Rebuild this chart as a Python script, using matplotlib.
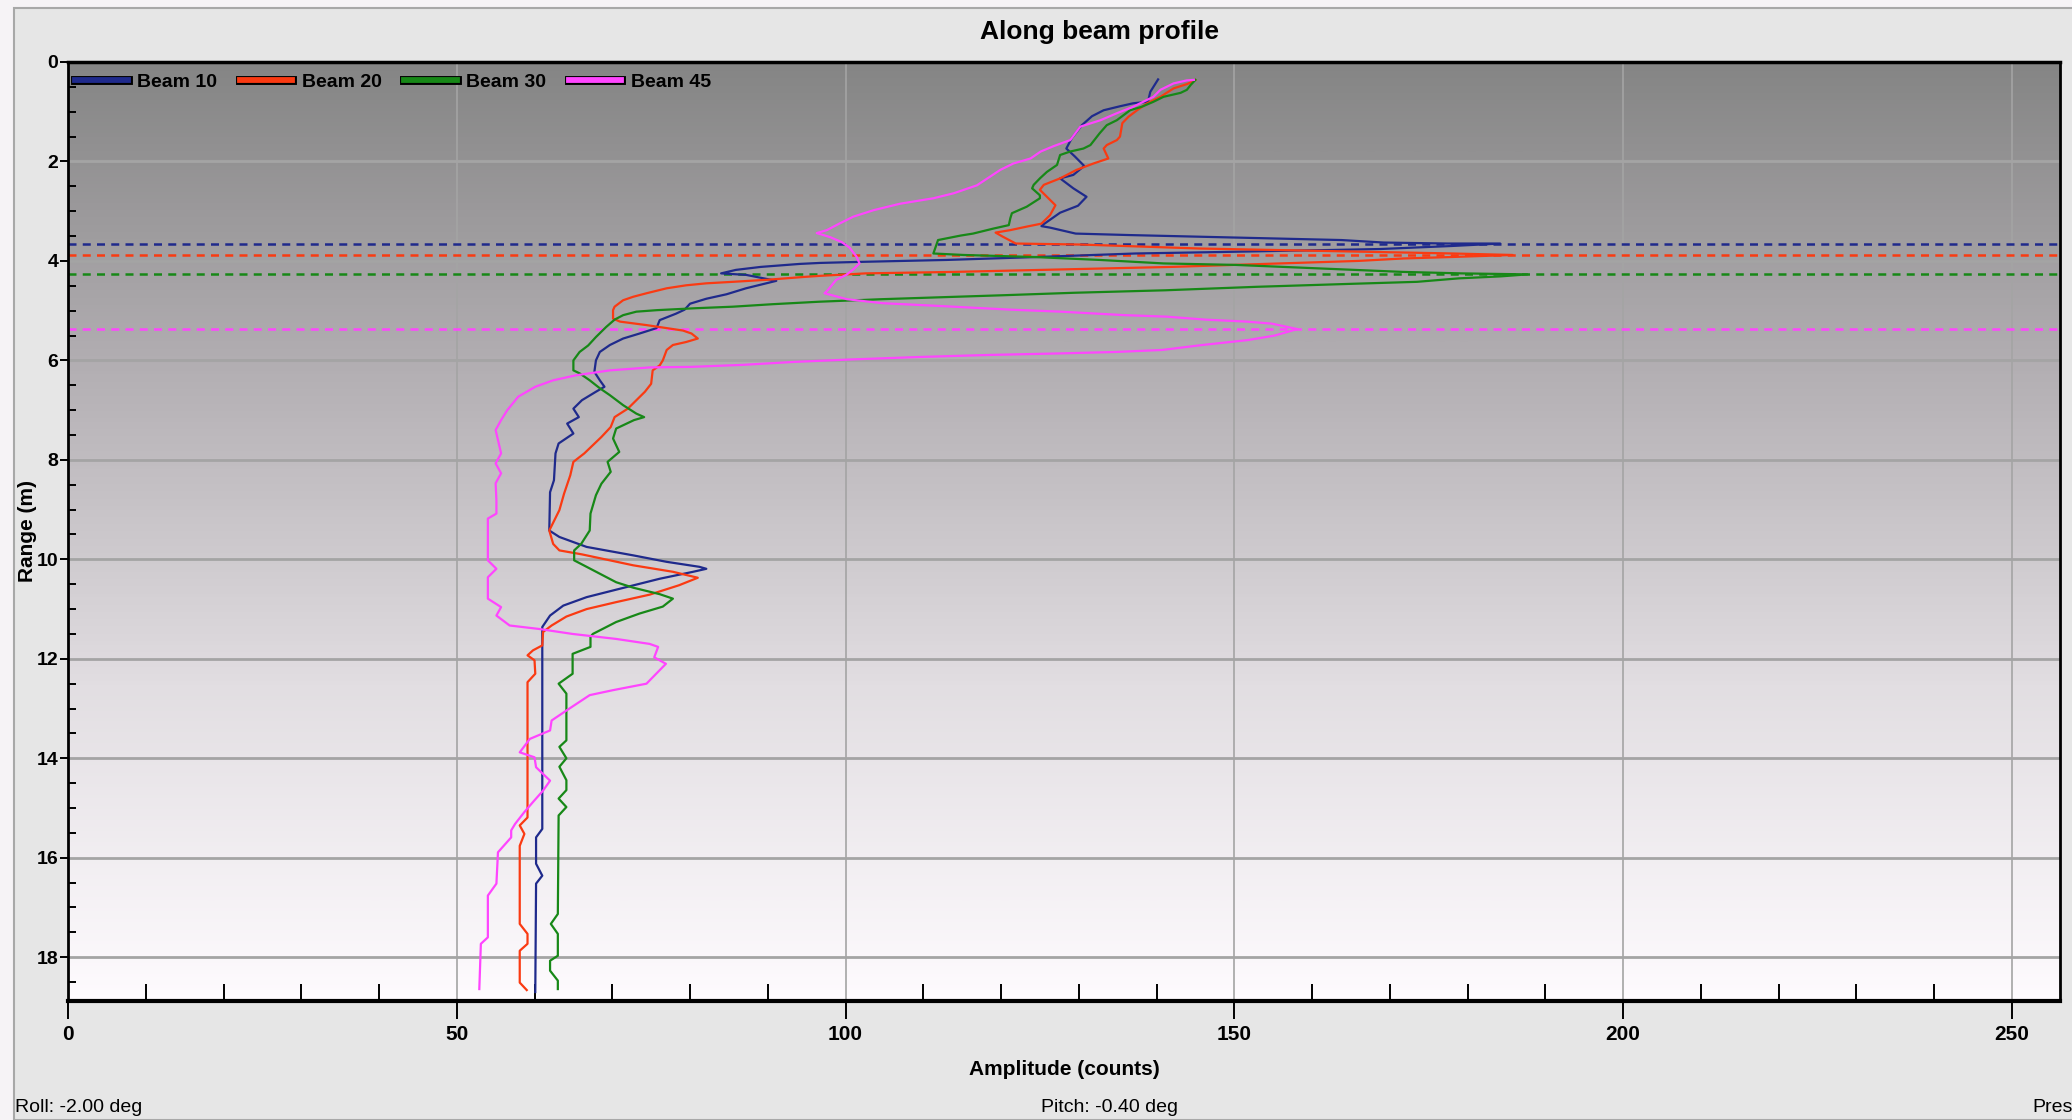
import numpy as np
import matplotlib
matplotlib.use('Agg')
import matplotlib.pyplot as plt
import matplotlib.patches as patches
import matplotlib.patheffects as pe
from matplotlib.colors import LinearSegmentedColormap
from matplotlib.lines import Line2D
from matplotlib.ticker import MultipleLocator

# Beam 10 profile (amplitude in counts, range in m)
beam10_amp = [140.2, 139.2, 138.9, 137.0, 135.3, 133.2, 131.7, 130.4, 129.1, 128.4, 129.5, 130.7, 129.3,
              127.6, 129.3, 131.0, 129.9, 127.6, 125.5, 125.2, 126.3, 129.6, 136.6, 150.2, 163.8, 169.2,
              177.4, 184.2, 177.9, 168.8, 162.4, 158.5, 148.4, 137.3, 124.8, 113.0, 101.6, 96.7, 94.1,
              89.1, 85.9, 84.0, 87.2, 91.1, 89.8, 87.2, 84.7, 82.1, 80.0, 79.3, 78.2, 76.1, 75.7, 73.5,
              71.4, 69.7, 68.4, 67.9, 67.7, 68.4, 69.0, 67.9, 66.1, 65.0, 65.7, 64.2, 65.0, 63.1, 62.7,
              62.5, 62.0, 61.9, 63.2, 66.7, 72.7, 77.0, 81.2, 82.1, 80.4, 76.1, 71.0, 66.7, 63.7, 62.0,
              61.0, 61.0, 60.2, 60.2, 61.0, 60.2, 60.1]
beam10_rng = [0.35, 0.60, 0.80, 0.83, 0.89, 0.97, 1.09, 1.27, 1.53, 1.74, 1.90, 2.09, 2.27,
              2.34, 2.54, 2.71, 2.89, 3.03, 3.26, 3.30, 3.33, 3.45, 3.48, 3.53, 3.58, 3.63,
              3.65, 3.65, 3.70, 3.76, 3.78, 3.79, 3.82, 3.85, 3.92, 3.98, 4.02, 4.04, 4.06,
              4.12, 4.18, 4.25, 4.28, 4.40, 4.45, 4.55, 4.67, 4.76, 4.86, 4.98, 5.06, 5.19, 5.35, 5.46,
              5.56, 5.69, 5.83, 6.00, 6.23, 6.40, 6.53, 6.63, 6.80, 6.97, 7.14, 7.27, 7.47, 7.67, 7.87,
              8.41, 8.65, 9.42, 9.55, 9.75, 9.92, 10.05, 10.15, 10.19, 10.25, 10.39, 10.59, 10.76, 10.93, 11.13,
              11.36, 15.42, 15.59, 16.12, 16.36, 16.52, 18.70]

# Beam 20 profile
beam20_amp = [145.0, 144.0, 142.2, 140.5, 138.8, 137.5, 136.4, 135.6, 135.3, 134.9, 133.6, 133.2, 133.8,
              131.9, 129.7, 127.6, 125.5, 125.0, 125.9, 127.0, 126.3, 125.2, 123.3, 121.2, 119.3, 120.2,
              121.9, 130.2, 145.5, 161.8, 178.1, 185.8, 178.1, 171.8, 165.9, 155.9, 141.9, 128.0, 114.1,
              102.6, 96.7, 94.8, 89.8, 85.5, 82.1, 79.5, 77.0, 74.4, 72.7, 71.4, 70.3, 70.1, 70.1, 71.0,
              74.4, 77.4, 79.1, 80.2, 81.0, 79.5, 77.8, 77.0, 76.5, 76.1, 75.2, 75.0, 74.2, 73.1, 72.0,
              70.3, 69.8, 68.6, 66.4, 65.0, 64.6, 63.8, 63.2, 61.9, 62.4, 63.2, 66.1, 72.7, 77.8, 81.0,
              78.6, 74.8, 70.5, 66.7, 64.1, 62.2, 61.1, 61.0, 59.8, 59.1, 60.0, 60.1, 59.1, 59.1, 58.1,
              58.7, 58.1, 58.1, 59.1, 59.1, 58.1, 58.1, 59.0]
beam20_rng = [0.36, 0.44, 0.53, 0.70, 0.83, 0.97, 1.10, 1.23, 1.50, 1.57, 1.67, 1.74, 1.94,
              2.04, 2.17, 2.34, 2.47, 2.57, 2.71, 2.88, 3.08, 3.25, 3.31, 3.38, 3.43, 3.51,
              3.65, 3.67, 3.75, 3.80, 3.85, 3.88, 3.92, 3.95, 4.00, 4.05, 4.12, 4.17, 4.22,
              4.25, 4.30, 4.32, 4.38, 4.42, 4.45, 4.49, 4.55, 4.65, 4.72, 4.79, 4.92, 4.99, 5.16, 5.22,
              5.29, 5.36, 5.40, 5.46, 5.56, 5.63, 5.69, 5.79, 6.00, 6.10, 6.20, 6.47, 6.63, 6.80, 6.97,
              7.14, 7.34, 7.54, 7.87, 8.04, 8.31, 8.68, 9.01, 9.42, 9.69, 9.82, 9.90, 10.12, 10.25, 10.37,
              10.52, 10.71, 10.86, 11.00, 11.15, 11.33, 11.46, 11.73, 11.83, 11.93, 12.03, 12.30, 12.47, 15.19, 15.35,
              15.52, 15.76, 17.33, 17.53, 17.73, 17.87, 18.51, 18.66]

# Beam 30 profile
beam30_amp = [145.0, 144.4, 143.9, 143.1, 140.9, 139.6, 138.1, 136.6, 134.9, 133.6, 132.7, 131.5, 130.6,
              128.9, 127.6, 127.2, 125.9, 125.0, 124.2, 124.0, 125.0, 125.0, 123.3, 121.4, 121.2, 121.0,
              119.0, 116.4, 114.8, 111.9, 111.3, 115.2, 124.1, 132.7, 140.9, 150.2, 160.9, 171.6, 179.2,
              187.7, 184.3, 178.9, 173.5, 165.1, 152.9, 141.1, 129.4, 120.2, 112.3, 104.5, 96.6, 90.6,
              85.5, 80.8, 75.7, 73.1, 71.4, 70.3, 69.2, 67.9, 66.9, 65.8, 65.0, 65.0, 65.8, 67.1, 68.4,
              69.7, 71.4, 73.1, 74.1, 72.8, 70.5, 70.1, 70.9, 69.4, 69.8, 68.6, 67.9, 67.2, 67.1, 66.0,
              65.1, 65.1, 66.7, 70.5, 72.7, 76.1, 77.8, 76.5, 73.5, 70.5, 67.5, 67.2, 67.2, 64.9, 64.9,
              63.1, 64.1, 64.1, 63.2, 64.1, 63.2, 64.1, 64.1, 63.1, 64.1, 63.1, 63.0, 62.1, 63.0, 63.0,
              62.0, 62.0, 63.0, 63.0]
beam30_rng = [0.36, 0.46, 0.56, 0.62, 0.70, 0.80, 0.90, 0.97, 1.17, 1.27, 1.43, 1.67, 1.74,
              1.80, 1.87, 2.07, 2.21, 2.34, 2.47, 2.54, 2.68, 2.74, 2.91, 3.04, 3.14, 3.28,
              3.35, 3.45, 3.49, 3.58, 3.85, 3.88, 3.92, 3.98, 4.05, 4.08, 4.15, 4.22, 4.25,
              4.27, 4.31, 4.35, 4.42, 4.46, 4.52, 4.59, 4.64, 4.69, 4.73, 4.77, 4.82, 4.87,
              4.92, 4.95, 4.99, 5.02, 5.09, 5.18, 5.33, 5.53, 5.70, 5.83, 6.00, 6.20, 6.26, 6.40, 6.56,
              6.70, 6.90, 7.07, 7.14, 7.20, 7.37, 7.57, 7.84, 8.04, 8.24, 8.48, 8.71, 9.08, 9.42, 9.69,
              9.82, 10.02, 10.15, 10.46, 10.57, 10.70, 10.79, 10.95, 11.09, 11.26, 11.50, 11.56, 11.76, 11.90, 12.30,
              12.50, 12.70, 13.64, 13.77, 14.00, 14.17, 14.44, 14.64, 14.81, 14.98, 15.15, 17.13, 17.33, 17.53, 17.97,
              18.07, 18.27, 18.47, 18.64]

# Beam 45 profile
beam45_amp = [144.8, 143.9, 142.2, 140.5, 139.6, 138.8, 137.0, 134.9, 132.8, 130.2, 128.9, 126.8, 125.1,
              123.8, 121.6, 119.9, 116.9, 113.9, 111.3, 107.0, 103.6, 101.0, 99.2, 97.6, 96.3, 98.0,
              99.5, 100.5, 101.4, 101.8, 101.0, 100.1, 98.8, 97.7, 97.3, 100.2, 104.8, 112.7, 121.3,
              127.7, 135.9, 141.3, 146.3, 151.6, 154.8, 158.1, 155.2, 151.8, 145.9, 140.7, 134.8, 127.4,
              118.5, 109.7, 100.8, 93.4, 86.7, 80.1, 74.9, 69.7, 65.3, 62.4, 60.1, 57.9, 56.5, 55.7,
              55.0, 55.3, 55.7, 55.0, 55.7, 55.0, 55.1, 55.1, 54.0, 54.0, 55.1, 54.0, 54.0, 55.7, 55.1,
              56.8, 60.6, 64.9, 70.5, 74.8, 75.9, 75.4, 76.9, 74.4, 70.1, 67.1, 64.1, 62.2, 62.0, 59.4,
              58.1, 60.0, 60.2, 62.0, 61.1, 59.8, 58.7, 57.5, 57.0, 57.0, 55.3, 55.1, 54.0, 54.0, 53.1,
              52.9]
beam45_rng = [0.36, 0.37, 0.43, 0.56, 0.70, 0.76, 0.90, 1.03, 1.17, 1.30, 1.57, 1.69, 1.80,
              1.94, 2.04, 2.17, 2.48, 2.64, 2.74, 2.85, 2.98, 3.11, 3.25, 3.38, 3.44, 3.52,
              3.62, 3.73, 3.91, 4.05, 4.17, 4.28, 4.38, 4.59, 4.65, 4.77, 4.85, 4.91, 4.98,
              5.02, 5.09, 5.12, 5.18, 5.22, 5.26, 5.37, 5.50, 5.59, 5.69, 5.79, 5.83, 5.86,
              5.89, 5.93, 5.98, 6.03, 6.09, 6.13, 6.14, 6.20, 6.30, 6.40, 6.53, 6.73, 7.00, 7.20,
              7.40, 7.60, 7.87, 8.07, 8.27, 8.47, 8.81, 9.08, 9.18, 10.02, 10.19, 10.36, 10.79, 10.96, 11.13,
              11.33, 11.40, 11.50, 11.60, 11.70, 11.76, 11.97, 12.10, 12.50, 12.63, 12.73, 13.04, 13.24, 13.44, 13.61,
              13.88, 13.98, 14.18, 14.45, 14.65, 14.88, 15.08, 15.32, 15.45, 15.59, 15.89, 16.52, 16.76, 17.60, 17.73,
              18.64]

beam_labels = ['Beam 10', 'Beam 20', 'Beam 30', 'Beam 45']
beam_colors = ['#1f2a8c', '#fa3a12', '#178817', '#ff45ff']
# detected peak range for each beam (dashed markers)
peak_ranges = [3.65, 3.88, 4.26, 5.37]

status_texts = ['Roll: -2.00 deg', 'Pitch: -0.40 deg', 'Pres']

NARROW = ['Liberation Sans Narrow', 'Liberation Sans', 'DejaVu Sans']
WIDE = ['Liberation Sans', 'DejaVu Sans']

W, H = 2072, 1120
fig = plt.figure(figsize=(W / 100, H / 100), dpi=100)
fig.patch.set_facecolor('#f6f3f6')

# grey window panel behind the chart
panel = patches.Rectangle((14 / W, 0), 1, (H - 8) / H, transform=fig.transFigure,
                          facecolor='#e6e6e6', edgecolor='#a8a8a8', lw=1.5, zorder=-10)
fig.patches.append(panel)

ax = fig.add_axes([68 / W, 1 - 1001 / H, (2060 - 68) / W, (1001 - 62) / H])

# vertical background gradient, dark at top, near white at bottom
grad_cmap = LinearSegmentedColormap.from_list('bg', ['#858585', '#b4b0b4', '#e2dee2', '#fefbfe'])
ax.imshow(np.linspace(0, 1, 256).reshape(-1, 1), cmap=grad_cmap, aspect='auto',
          extent=[0, 1, 0, 1], transform=ax.transAxes, zorder=0, interpolation='bilinear')

# dashed peak markers
for pr, c in zip(peak_ranges, beam_colors):
    ax.axhline(pr, color=c, lw=1.8, linestyle=(0, (3.2, 2.5)), zorder=2)

# profiles
profiles = [(beam10_amp, beam10_rng), (beam20_amp, beam20_rng),
            (beam30_amp, beam30_rng), (beam45_amp, beam45_rng)]
for (amp, rng), c in zip(profiles, beam_colors):
    ax.plot(amp, rng, color=c, lw=1.6, zorder=3)

ax.set_xlim(0, 256.2)
ax.set_ylim(18.88, 0)

# grid
ax.xaxis.set_major_locator(MultipleLocator(50))
ax.xaxis.set_minor_locator(MultipleLocator(10))
ax.yaxis.set_major_locator(MultipleLocator(2))
ax.yaxis.set_minor_locator(MultipleLocator(0.5))
ax.xaxis.grid(True, which='major', color='#a4a4a4', lw=1.2, zorder=1)
ax.yaxis.grid(True, which='major', color='#a4a4a4', lw=2.0, zorder=1)
ax.set_axisbelow(True)

# ticks
ax.tick_params(axis='x', which='major', direction='out', length=13, width=1.4, pad=4,
               labelsize=15, colors='black')
ax.tick_params(axis='x', which='minor', direction='in', length=12, width=1.4)
ax.tick_params(axis='y', which='major', direction='out', length=6, width=1.4, pad=1,
               labelsize=14)
ax.tick_params(axis='y', which='minor', direction='in', length=6, width=1.4)
for lab in ax.get_xticklabels():
    lab.set_family(NARROW)
    lab.set_weight('bold')
for lab in ax.get_yticklabels():
    lab.set_family(WIDE)
    lab.set_weight('bold')

# spines
for side, lw in [('top', 2.5), ('bottom', 3.0), ('left', 2.0), ('right', 2.0)]:
    ax.spines[side].set_linewidth(lw)
    ax.spines[side].set_color('black')
    ax.spines[side].set_zorder(5)

# labels
ax.set_xlabel('Amplitude (counts)', family=NARROW, weight='bold', fontsize=15, labelpad=12)
ax.set_ylabel('Range (m)', family=WIDE, weight='bold', fontsize=15)
ax.yaxis.set_label_coords(-0.0155, 0.5)
fig.text(1100 / W, 1 - 32 / H, 'Along beam profile', family=NARROW, weight='bold',
         fontsize=19, ha='center', va='center')

# legend with outlined handles
handles = [Line2D([], [], color=c, lw=4.2,
                  path_effects=[pe.Stroke(linewidth=6.4, foreground='black'), pe.Normal()])
           for c in beam_colors]
leg = ax.legend(handles, beam_labels, ncol=4, frameon=False, loc='center left',
                bbox_to_anchor=(75 / W, 1 - 82 / H), bbox_transform=fig.transFigure,
                borderpad=0, borderaxespad=0, handlelength=2.7, handletextpad=0.5,
                columnspacing=1.15, prop={'family': NARROW, 'weight': 'bold', 'size': 14})
leg.set_zorder(6)

# status bar
fig.text(15 / W, 1 - 1108 / H, status_texts[0], family=NARROW, fontsize=14, ha='left', va='center')
fig.text(1041 / W, 1 - 1108 / H, status_texts[1], family=NARROW, fontsize=14, ha='left', va='center')
fig.text(2032 / W, 1 - 1108 / H, status_texts[2], family=NARROW, fontsize=14, ha='left', va='center')

fig.savefig('out.png', dpi=100, facecolor=fig.get_facecolor())
